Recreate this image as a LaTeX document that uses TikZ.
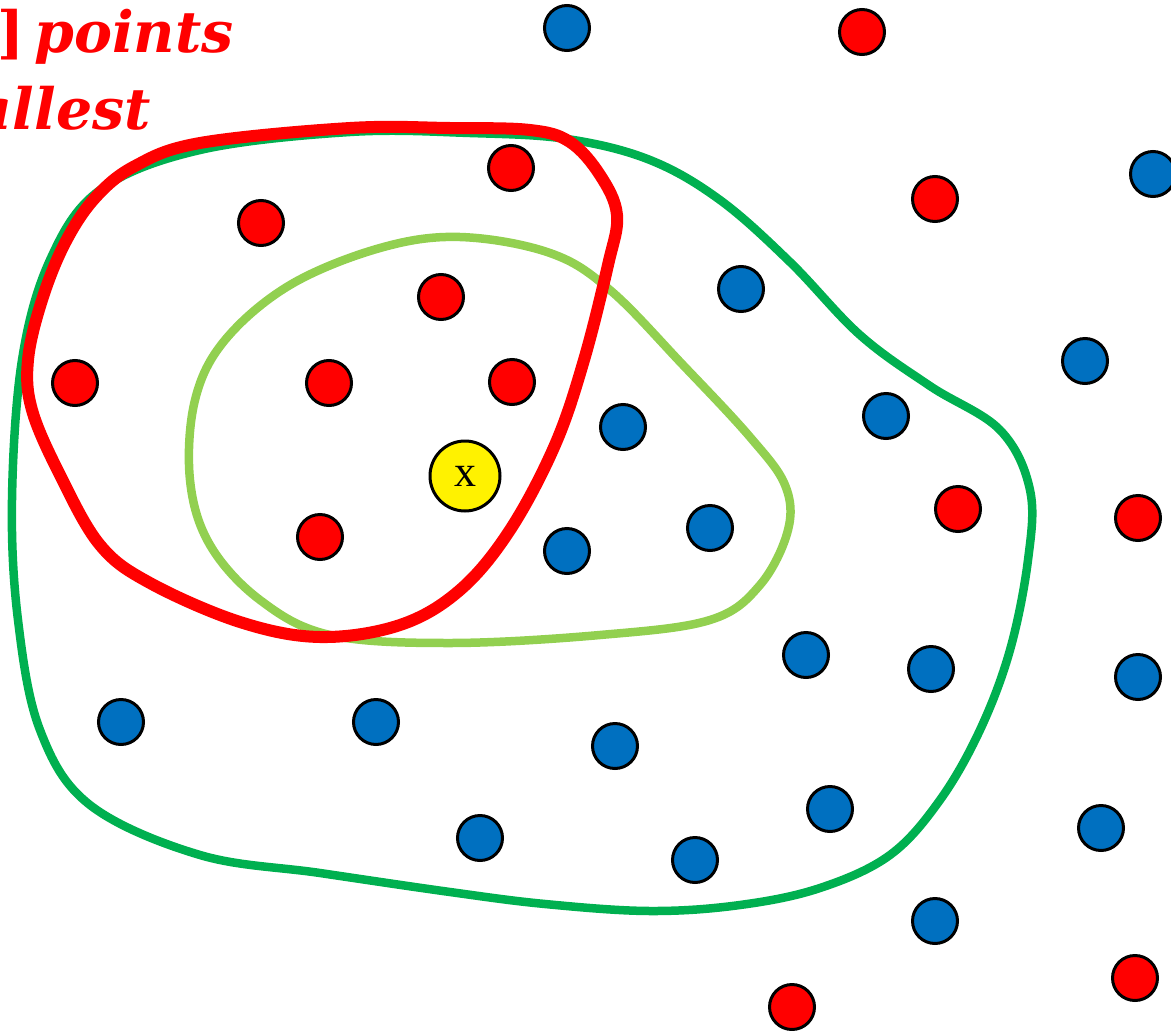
\documentclass[tikz,border=0pt]{standalone}
\usepackage{fontspec}
\setmainfont{Liberation Serif}
\newfontfamily\labelfont{DejaVu Serif}
\definecolor{ptred}{RGB}{255,0,0}
\definecolor{ptblue}{RGB}{0,112,192}
\definecolor{darkgreen}{RGB}{0,176,80}
\definecolor{lightgreen}{RGB}{146,208,80}
\begin{document}
\begin{tikzpicture}[x=1pt,y=-1pt,
        dot/.style={circle,draw=black,line width=3pt,minimum size=45pt,inner sep=0pt},
        reddot/.style={dot,fill=ptred},
        bluedot/.style={dot,fill=ptblue}]
        \useasboundingbox (0,0) rectangle (1171,1031);
        \clip (0,0) rectangle (1171,1031);
        % neighbourhoods
        \draw[darkgreen,line width=8.5pt] plot[smooth cycle,tension=0.6] coordinates {(567,139) (650,160) (720,200) (790,262) (860,335) (930,386) (1000,430) (1030,490) (1028,560) (1010,650) (980,730) (940,800) (890,855) (820,888) (740,905) (650,911) (545,904) (450,892) (320,873) (200,855) (90,805) (40,730) (18,620) (12,500) (22,360) (50,260) (100,190) (200,150) (350,132) (470,133)};
        \draw[lightgreen,line width=8.5pt] plot[smooth cycle,tension=0.6] coordinates {(460,237) (550,253) (610,290) (683,365) (750,437) (785,485) (788,530) (760,585) (710,620) (600,635) (450,643) (330,635) (260,600) (210,545) (190,480) (195,400) (225,340) (290,285) (380,248)};
        \draw[ptred,line width=12pt] plot[smooth cycle,tension=0.6] coordinates {(350,128) (450,128) (530,130) (570,142) (600,175) (617,215) (608,265) (584,360) (555,445) (510,530) (460,590) (400,625) (320,637) (240,622) (150,583) (100,545) (60,475) (32,410) (28,360) (42,300) (65,243) (95,198) (135,166) (200,143)};
        % points
        \foreach \px/\py [count=\i] in {862/32,511/168,935/199,261/223,441/297,75/383,329/383,512/382,958/509,1138/518,320/537,1135/978,792/1007}
            \node[reddot] (r\i) at (\px,\py) {};
        \foreach \px/\py [count=\i] in {567/28,1153/174,741/289,1085/361,886/416,623/427,710/528,567/551,806/655,931/669,1138/677,121/722,376/722,615/746,830/809,1101/828,480/838,695/860,935/921}
            \node[bluedot] (b\i) at (\px,\py) {};
        \node[circle,draw=black,line width=3pt,fill=yellow,minimum size=70pt,inner sep=0pt,font=\fontsize{44}{44}\selectfont] (query) at (465,476) {x};
        % label
        \node[anchor=base east,text=ptred,inner sep=0pt,font=\labelfont\bfseries\itshape\fontsize{57}{60}\selectfont] (line1) at (234,52) {{\upshape]}\,points};
        \node[anchor=base east,text=ptred,inner sep=0pt,font=\labelfont\bfseries\itshape\fontsize{57}{60}\selectfont] (line2) at (151,129) {smallest};
    \end{tikzpicture}
\end{document}
